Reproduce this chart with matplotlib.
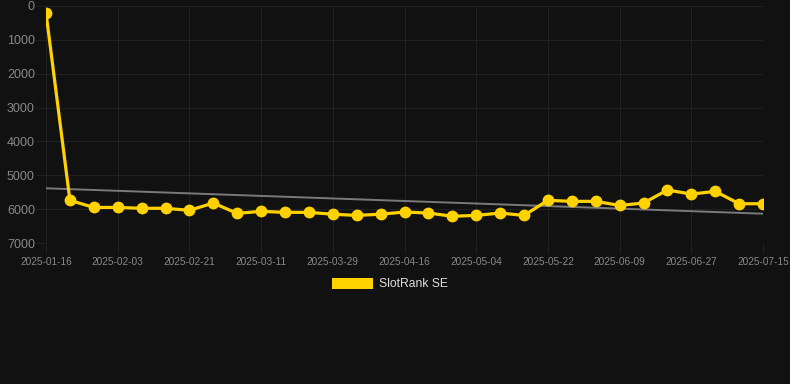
import numpy as np
import pandas as pd
import matplotlib.pyplot as plt
import matplotlib.dates as mdates
from matplotlib.patches import Patch

plt.rcParams["font.family"] = ["Liberation Sans", "DejaVu Sans"]

# Данные: позиция в рейтинге SlotRank SE (каждые 6 дней)
dates = pd.date_range("2025-01-16", "2025-07-15", freq="6D")
ranks = [200, 5740, 5950, 5950, 5975, 5975, 6035, 5820, 6125, 6065,
         6095, 6095, 6150, 6185, 6150, 6085, 6115, 6210, 6185, 6115,
         6185, 5740, 5770, 5770, 5890, 5820, 5435, 5555, 5475, 5840, 5840]
tick_dates = pd.date_range("2025-01-16", "2025-07-15", freq="18D")
y_ticks = [0, 1000, 2000, 3000, 4000, 5000, 6000, 7000]

bg = "#111111"
grid_col = "#202020"
text_col = "#888888"

fig = plt.figure(figsize=(7.9, 3.84), dpi=100, facecolor=bg)
ax = fig.add_axes([46 / 790, 1 - 243 / 384, (763 - 46) / 790, (243 - 6) / 384])
ax.set_facecolor(bg)

# Линия тренда
x_num = mdates.date2num(dates)
coef = np.polyfit(x_num, ranks, 1)
ax.plot(dates, np.polyval(coef, x_num), color="#7a7a7a", lw=1.4, zorder=2)

ax.plot(dates, ranks, color="#FFD200", lw=2.3, marker="o", markersize=7.5, zorder=3)

ax.set_xlim(dates[0], dates[-1])
ax.set_ylim(7000, 0)
ax.set_yticks(y_ticks)
ax.set_xticks(tick_dates)
ax.xaxis.set_major_formatter(mdates.DateFormatter("%Y-%m-%d"))
ax.tick_params(axis="x", colors=grid_col, labelcolor=text_col, labelsize=7.3, length=7, pad=3)
ax.tick_params(axis="y", colors=grid_col, labelcolor=text_col, labelsize=9, length=7, pad=1)
ax.grid(color=grid_col, lw=0.8)
for s in ax.spines.values():
    s.set_visible(False)

fig.legend(handles=[Patch(facecolor="#FFD200", label="SlotRank SE")],
           loc="center", bbox_to_anchor=(390 / 790, 1 - 284 / 384), frameon=False,
           labelcolor="#dddddd", fontsize=8.7, handlelength=3.4, handleheight=1.0,
           handletextpad=0.5)

plt.savefig("out.png", facecolor=bg)
